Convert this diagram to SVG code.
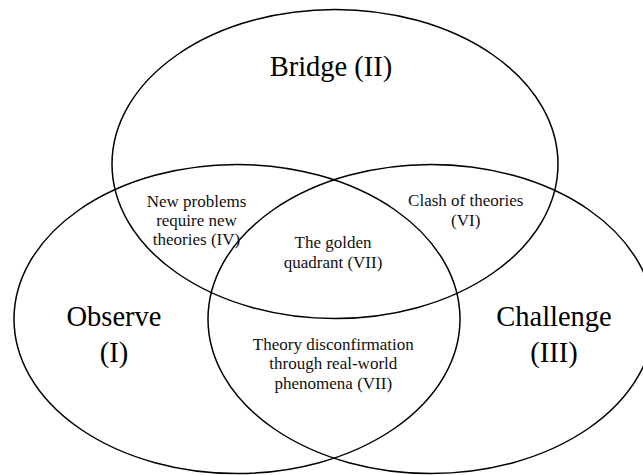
<svg xmlns="http://www.w3.org/2000/svg" width="643" height="475" viewBox="0 0 643 475">
<style>
  .set { fill: none; stroke: #000; stroke-width: 1.5; }
  .big { font-family: "Liberation Serif", "Times New Roman", serif; font-size: 28.5px; fill: #000; text-anchor: middle; }
  .small { font-family: "Liberation Serif", "Times New Roman", serif; font-size: 17px; fill: #111; text-anchor: middle; }
</style>
<rect width="643" height="475" fill="#fff"/>
<g id="connectors"></g>
<g id="bridge">
  <ellipse class="set" cx="335" cy="164" rx="223" ry="154.5"/>
  <text class="big" x="331" y="76">Bridge (II)</text>
</g>
<g id="observe">
  <ellipse class="set" cx="237" cy="319" rx="223" ry="154.5"/>
  <text class="big" x="114" y="326">Observe</text>
  <text class="big" x="114" y="361.5">(I)</text>
</g>
<g id="challenge">
  <ellipse class="set" cx="431" cy="319" rx="223" ry="154.5"/>
  <text class="big" x="554" y="326">Challenge</text>
  <text class="big" x="554" y="361.5">(III)</text>
</g>
<g id="region-iv">
  <text class="small" x="196.5" y="206.5">New problems</text>
  <text class="small" x="196.5" y="226">require new</text>
  <text class="small" x="196.5" y="245.3">theories (IV)</text>
</g>
<g id="region-vi">
  <text class="small" x="465.7" y="206">Clash of theories</text>
  <text class="small" x="465.7" y="226">(VI)</text>
</g>
<g id="region-golden">
  <text class="small" x="333" y="248.3">The golden</text>
  <text class="small" x="333" y="268">quadrant (VII)</text>
</g>
<g id="region-v">
  <text class="small" x="333.3" y="350">Theory disconfirmation</text>
  <text class="small" x="333.3" y="369.3">through real-world</text>
  <text class="small" x="333.3" y="389">phenomena (VII)</text>
</g>
</svg>
